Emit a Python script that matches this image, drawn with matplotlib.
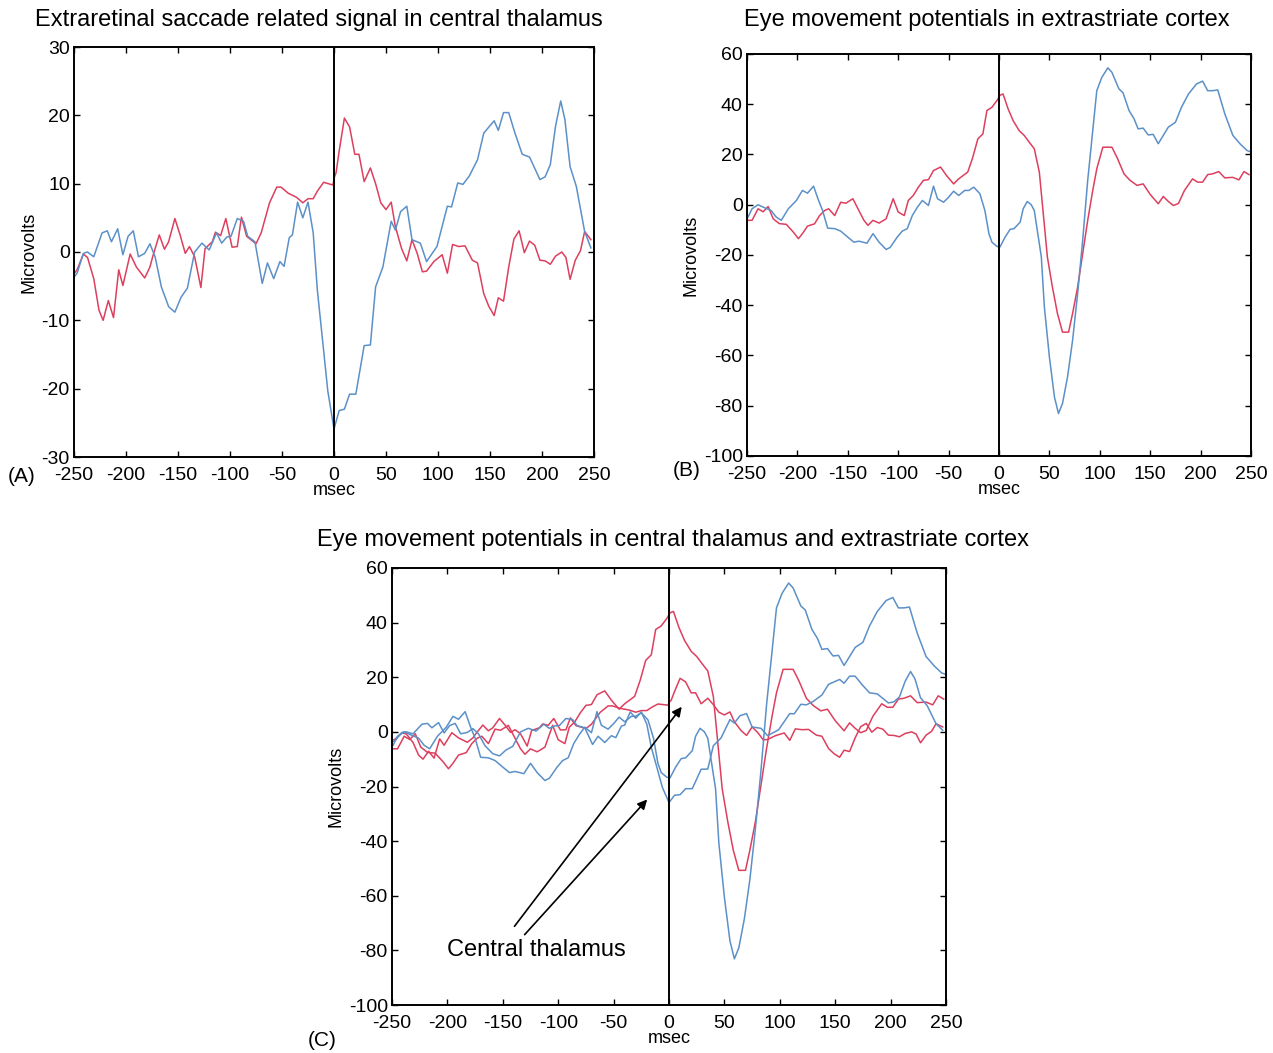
import matplotlib
matplotlib.use("Agg")
import matplotlib.pyplot as plt

plt.rcParams["font.family"] = ["Liberation Sans", "DejaVu Sans"]
plt.rcParams["axes.unicode_minus"] = False

RED = "#dd3f5e"
BLUE = "#5b90c8"

# central thalamus, blue trace (msec, microvolts)
thal_blue_t = [-249, -247, -241, -237, -231, -223, -218, -214, -208, -203, -198, -193, -188, -182,
               -177, -172, -166, -159, -153, -147, -141, -134, -127, -120, -113, -108, -103, -99,
               -93, -87, -83, -76, -69, -64, -58, -52, -48, -43, -40, -35, -30, -25, -20, -16,
               -11, -6, 0, 5, 10, 15, 21, 29, 35, 40, 47, 55, 59, 64, 70, 75, 83, 89, 99, 109,
               113, 119, 124, 130, 138, 144, 154, 158, 163, 168, 174, 181, 188, 198, 203, 208,
               213, 218, 222, 227, 233, 241, 247]
thal_blue_v = [-3.5, -3.1, -0.2, 0, -0.7, 2.8, 3.1, 1.5, 3.4, -0.4, 2.3, 3.1, -0.7, -0.2,
               1.2, -0.7, -5.1, -8.0, -8.8, -6.6, -5.3, 0, 1.3, 0.3, 2.8, 1.3, 2.2, 2.3,
               4.9, 4.5, 2.3, 1.5, -4.6, -1.6, -3.9, -1.4, -2.1, 2.1, 2.5, 7.3, 5.0, 7.3, 2.8, -5.6,
               -12.9, -20.3, -25.9, -23.2, -23, -20.8, -20.8, -13.7, -13.6, -5.1, -2.2, 4.5, 3.2, 5.9, 6.7, 1.8, 1.3, -1.4, 0.8, 6.7,
               6.6, 10.1, 9.9, 11.1, 13.5, 17.4, 19.2, 17.8, 20.4, 20.4, 17.4, 14.3, 13.9, 10.6, 11, 12.8,
               18.4, 22.1, 19.4, 12.5, 9.6, 3.0, 0.6]

# central thalamus, red trace
thal_red_t = [-249, -247, -241, -237, -231, -226, -222, -217, -212, -207, -203, -196, -190, -182,
              -177, -174, -168, -163, -159, -153, -148, -143, -139, -134, -128, -124, -117, -114,
              -109, -104, -98, -93, -89, -84, -75, -70, -62, -55, -51, -44, -36, -30, -25, -20,
              -16, -10, -1, 0.5, 2, 5, 10, 15, 20, 24, 29, 35, 40, 45, 50, 55, 59, 65, 70, 75,
              80, 85, 89, 96, 104, 109, 114, 120, 126, 133, 138, 144, 149, 154, 158, 163, 168,
              173, 178, 183, 188, 193, 198, 203, 208, 213, 219, 223, 227, 232, 237, 241, 247]
thal_red_v = [-3.0, -2.6, -0.3, -0.8, -3.9, -8.5, -10, -7.1, -9.6, -2.6, -4.9, -0.3, -2.2, -3.8,
              -2.2, -0.5, 2.5, 0.4, 1.5, 4.9, 2.5, -0.2, 0.8, -0.7, -5.2, 0.5, 1.5, 2.9,
              2.4, 4.9, 0.7, 0.8, 5.1, 2.3, 1.2, 2.8, 7.2, 9.5, 9.5, 8.6, 8.0, 7.2, 7.8, 7.8,
              8.9, 10.2, 9.8, 11.0, 11.6, 14.8, 19.6, 18.3, 14.3, 14.3, 10.3, 12.3, 10, 7.2, 6.2, 7.3, 3.7, 0.5, -1.3, 1.8,
              -0.2, -2.9, -2.8, -1.4, -0.4, -3.1, 1.1, 0.8, 0.9, -1.2, -1.6, -6.1, -8.0, -9.3, -6.7, -7.2, -2.2,
              1.9, 3.1, -0.1, 1.6, 1.0, -1.2, -1.3, -1.8, -0.6, 0, -0.8, -4.0, -1.2, 0.2, 3.0, 1.8]

# extrastriate cortex, blue trace
cort_blue_t = [-249, -245, -239, -232, -226, -221, -216, -209, -201, -195, -190, -184, -179, -175,
               -170, -163, -157, -150, -144, -139, -131, -125, -119, -112, -108, -101, -96, -91,
               -86, -81, -76, -70, -65, -61, -55, -50, -45, -40, -34, -30, -25, -19, -14, -10,
               -7, -2, 1, 6, 11, 15, 21, 24, 28, 32, 35, 38, 42, 45, 50, 55, 59, 63, 68, 73,
               78, 83, 88, 93, 97, 102, 108, 112, 119, 123, 129, 134, 138, 143, 148, 153, 158,
               163, 168, 175, 181, 188, 196, 202, 207, 212, 217, 224, 232, 239, 246, 250]
cort_blue_v = [-4.9, -1.6, 0, -1.3, -2.3, -4.9, -6.2, -1.6, 1.7, 5.7, 4.6, 7.4, 1.7, -2.3,
               -9.3, -9.5, -10.5, -12.9, -14.9, -14.5, -15.3, -11.5, -14.9, -17.8, -17, -12.9, -10.5, -9.5,
               -4.3, -1, 1.7, -0.3, 7.4, 2.4, 1, 3, 5.4, 3.7, 5.7, 5.7, 7, 4.4, -2.3, -11.5,
               -14.9, -16.6, -16.8, -12.9, -9.8, -9.5, -6.9, -1.6, 1.3, 0, -2.3, -10.2, -20.8, -40.7, -60.6, -76.5, -83.1, -79.1, -68.5, -54,
               -35.4, -14.2, 9.7, 29.5, 45.4, 50.7, 54.5, 52.7, 46.1, 44.6, 37.5, 34.2, 30.2, 30.5, 27.8, 28, 24.3,
               27.6, 30.9, 32.8, 38.8, 44.1, 48.1, 49.2, 45.4, 45.4, 45.7, 36.2, 27.6, 24.3, 21.6, 21.0]

# extrastriate cortex, red trace
cort_red_t = [-249, -245, -239, -234, -229, -224, -218, -211, -204, -199, -195, -190, -183, -178,
              -173, -169, -163, -157, -152, -145, -139, -134, -130, -125, -119, -112, -105, -100,
              -94, -90, -85, -80, -75, -70, -65, -58, -52, -45, -40, -31, -26, -21, -16, -12,
              -7, -2, 1, 4, 9, 14, 20, 25, 30, 35, 40, 43, 48, 53, 58, 63, 69, 73, 78, 83,
              88, 93, 97, 103, 112, 117, 124, 130, 137, 143, 150, 158, 163, 168, 173, 178,
              184, 192, 197, 202, 207, 212, 218, 224, 232, 238, 243, 248]
cort_red_v = [-6.2, -6.2, -1.6, -2.8, -0.7, -5.6, -7.5, -7.8, -10.9, -13.5, -11.5, -8.5, -7.6, -4.3,
              -2.3, -1.6, -4.3, 1, 0.6, 2.4, -2.3, -6.2, -8.2, -6.2, -7.3, -5.6, 2.4, -2.9,
              -4.3, 1.7, 3.7, 7, 9.7, 10, 13.6, 15, 11.6, 8.3, 10.3, 13, 18.9, 26.2, 28.2, 37.5,
              38.8, 41.5, 43.6, 44.1, 38.2, 33.5, 29.5, 27.6, 24.9, 22.3, 13, 0.4, -20.8, -32.8, -43.3, -50.7, -50.7, -43.3, -32.8, -19.5,
              -6.2, 5.7, 14.3, 22.9, 22.9, 18.9, 12.3, 9.7, 7.7, 8.3, 4.1, 0.4, 3.3, 1.3, -0.3, 0.5,
              5.7, 10.3, 9, 9, 12, 12.3, 13.2, 10.7, 10.9, 9.9, 13.2, 12]

x_ticks = [-250, -200, -150, -100, -50, 0, 50, 100, 150, 200, 250]
a_yticks = [-30, -20, -10, 0, 10, 20, 30]
b_yticks = [-100, -80, -60, -40, -20, 0, 20, 40, 60]

W, H = 1273, 1053
fig = plt.figure(figsize=(W / 100, H / 100), dpi=100)


def px_axes(left, top, right, bottom):
    return fig.add_axes([left / W, 1 - bottom / H, (right - left) / W, (bottom - top) / H])


def style(ax, yticks):
    ax.set_xlim(-250, 250)
    ax.set_ylim(yticks[0], yticks[-1])
    ax.set_xticks(x_ticks)
    ax.set_yticks(yticks)
    ax.tick_params(direction="in", length=4, width=1, labelsize=14,
                   top=True, right=True)
    ax.tick_params(axis="x", pad=7)
    ax.tick_params(axis="y", pad=3)
    for s in ax.spines.values():
        s.set_linewidth(1.4)
    ax.axvline(0, color="black", lw=1.4)
    ax.set_xlabel("msec", fontsize=13, labelpad=-1)
    ax.set_ylabel("Microvolts", fontsize=13, labelpad=3)


# (A)
axA = px_axes(74, 47, 594, 457)
axA.plot(thal_red_t, thal_red_v, color=RED, lw=1.1)
axA.plot(thal_blue_t, thal_blue_v, color=BLUE, lw=1.1)
style(axA, a_yticks)

# (B)
axB = px_axes(747, 54, 1251, 456)
axB.plot(cort_red_t, cort_red_v, color=RED, lw=1.1)
axB.plot(cort_blue_t, cort_blue_v, color=BLUE, lw=1.1)
style(axB, b_yticks)

# (C)
axC = px_axes(392, 568, 946, 1005)
axC.plot(cort_red_t, cort_red_v, color=RED, lw=1.1)
axC.plot(thal_red_t, thal_red_v, color=RED, lw=1.1)
axC.plot(cort_blue_t, cort_blue_v, color=BLUE, lw=1.1)
axC.plot(thal_blue_t, thal_blue_v, color=BLUE, lw=1.1)
style(axC, b_yticks)

axC.annotate("", xy=(13, 10), xytext=(-141, -72),
             arrowprops=dict(arrowstyle="-|>", color="black", lw=1.2, mutation_scale=14))
axC.annotate("", xy=(-18, -24), xytext=(-132, -75),
             arrowprops=dict(arrowstyle="-|>", color="black", lw=1.2, mutation_scale=14))
axC.text(-120, -80, "Central thalamus", fontsize=17, ha="center", va="center")

fig.text(319 / W, 1 - 20 / H, "Extraretinal saccade related signal in central thalamus",
         fontsize=17, ha="center", va="center")
fig.text(987 / W, 1 - 20 / H, "Eye movement potentials in extrastriate cortex",
         fontsize=17, ha="center", va="center")
fig.text(673 / W, 1 - 540 / H, "Eye movement potentials in central thalamus and extrastriate cortex",
         fontsize=17, ha="center", va="center")

fig.text(22 / W, 1 - 477 / H, "(A)", fontsize=15, ha="center", va="center")
fig.text(687 / W, 1 - 470 / H, "(B)", fontsize=15, ha="center", va="center")
fig.text(322 / W, 1 - 1040 / H, "(C)", fontsize=15, ha="center", va="center")

fig.savefig("out.png", dpi=100)
